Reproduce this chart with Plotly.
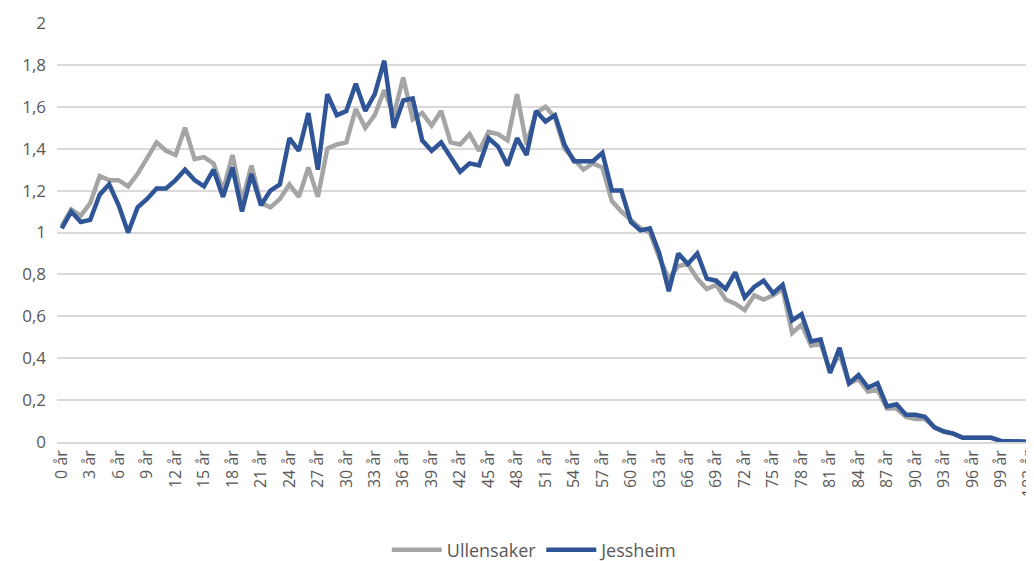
import plotly.graph_objects as go

ages = [f"{i} år" for i in range(0, 104)]

ullensaker = [
    1.03, 1.11, 1.08, 1.14, 1.27, 1.25, 1.25, 1.22, 1.28, 1.36,
    1.43, 1.39, 1.37, 1.50, 1.35, 1.36, 1.33, 1.20, 1.37, 1.15,
    1.32, 1.14, 1.12, 1.16, 1.23, 1.17, 1.31, 1.17, 1.40, 1.42,
    1.43, 1.59, 1.50, 1.56, 1.68, 1.56, 1.74, 1.54, 1.57, 1.51,
    1.58, 1.43, 1.42, 1.47, 1.39, 1.48, 1.47, 1.44, 1.66, 1.42,
    1.57, 1.60, 1.55, 1.40, 1.35, 1.30, 1.33, 1.31, 1.15, 1.10,
    1.06, 1.02, 1.00, 0.88, 0.78, 0.84, 0.85, 0.78, 0.73, 0.75,
    0.68, 0.66, 0.63, 0.70, 0.68, 0.70, 0.73, 0.52, 0.56, 0.46,
    0.47, 0.34, 0.42, 0.28, 0.30, 0.24, 0.25, 0.16, 0.16, 0.12,
    0.11, 0.11, 0.07, 0.05, 0.04, 0.02, 0.02, 0.02, 0.02, 0.005,
    0.005, 0.005, 0.0, 0.0,
]

jessheim = [
    1.02, 1.10, 1.05, 1.06, 1.18, 1.23, 1.13, 1.00, 1.12, 1.16,
    1.21, 1.21, 1.25, 1.30, 1.25, 1.22, 1.30, 1.17, 1.31, 1.10,
    1.28, 1.13, 1.20, 1.23, 1.45, 1.39, 1.57, 1.30, 1.66, 1.56,
    1.58, 1.71, 1.58, 1.66, 1.82, 1.50, 1.63, 1.64, 1.44, 1.39,
    1.43, 1.36, 1.29, 1.33, 1.32, 1.45, 1.41, 1.32, 1.45, 1.37,
    1.58, 1.53, 1.56, 1.42, 1.34, 1.34, 1.34, 1.38, 1.20, 1.20,
    1.05, 1.01, 1.02, 0.90, 0.72, 0.90, 0.85, 0.90, 0.78, 0.77,
    0.73, 0.81, 0.69, 0.74, 0.77, 0.71, 0.75, 0.58, 0.61, 0.48,
    0.49, 0.33, 0.45, 0.28, 0.32, 0.26, 0.28, 0.17, 0.18, 0.13,
    0.13, 0.12, 0.07, 0.05, 0.04, 0.02, 0.02, 0.02, 0.02, 0.005,
    0.005, 0.005, 0.0, 0.0,
]

y_ticks = [0, 0.2, 0.4, 0.6, 0.8, 1, 1.2, 1.4, 1.6, 1.8, 2]

fig = go.Figure()
fig.add_trace(go.Scatter(x=ages, y=ullensaker, mode="lines", name="Ullensaker",
                         line=dict(color="#A5A5A5", width=4.5)))
fig.add_trace(go.Scatter(x=ages, y=jessheim, mode="lines", name="Jessheim",
                         line=dict(color="#2F5597", width=4.5)))

font_family = "Open Sans, Lato, sans-serif"
fig.update_layout(
    width=1026, height=553,
    margin=dict(l=49, r=0, t=15, b=119, autoexpand=False),
    paper_bgcolor="white", plot_bgcolor="white",
    separators=", ",
    font=dict(family=font_family, color="#595959", size=14),
    showlegend=True,
    legend=dict(orientation="h", x=0.489, xanchor="center", y=-0.258, yanchor="middle",
                font=dict(size=18, color="#595959"), itemwidth=50,
                traceorder="normal"),
    xaxis=dict(type="category", range=[-0.5, 102.5], tickmode="array",
               tickvals=ages[::3], ticktext=ages[::3], tickangle=-90,
               automargin=False,
               showgrid=False, showline=True, linecolor="#D9D9D9", linewidth=1.5,
               ticks="", tickfont=dict(size=16, color="#595959")),
    yaxis=dict(range=[0, 2], tickvals=y_ticks, showgrid=True, gridcolor="#D9D9D9",
               automargin=False,
               gridwidth=1.5, zeroline=True, zerolinecolor="#D9D9D9", zerolinewidth=1.5,
               showline=False, ticks="", ticklabelstandoff=10,
               tickfont=dict(size=17, color="#595959")),
)

fig.write_html("out.html")
